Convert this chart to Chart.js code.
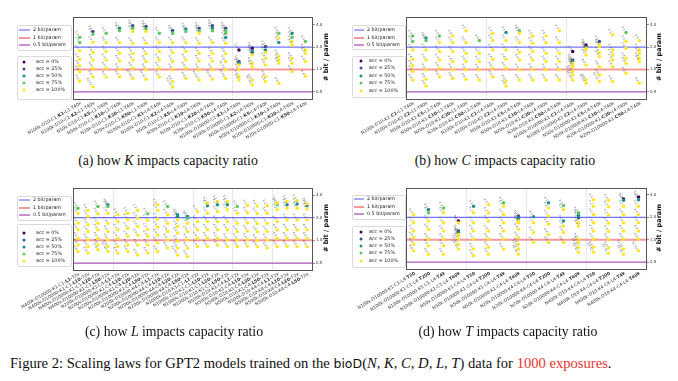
<!DOCTYPE html>
<html>
<head>
<meta charset="utf-8">
<script src="https://cdn.jsdelivr.net/npm/chart.js@4.4.1/dist/chart.umd.min.js"></script>
<style>
    html, body { margin: 0; padding: 0; background: #fff; }
    body { width: 678px; height: 381px; position: relative; overflow: hidden; }
    canvas { position: absolute; }
    .cap {
        position: absolute; transform: translate(-50%, -50%);
        font-family: "Liberation Serif", "DejaVu Serif", serif; font-size: 13.8px;
        color: #111; white-space: nowrap;
    }
    .fig {
        position: absolute; left: 10px; top: 355px;
        font-family: "Liberation Serif", "DejaVu Serif", serif; font-size: 14.6px;
        color: #111; white-space: nowrap;
    }
    .sf { font-family: "DejaVu Sans", sans-serif; font-size: 12.5px; }
    .red { color: #e8332c; }
</style>
</head>
<body>
<canvas id="chartA" width="340" height="150" style="left:0;top:0"></canvas>
<canvas id="chartB" width="338" height="150" style="left:340px;top:0"></canvas>
<canvas id="chartC" width="340" height="150" style="left:0;top:175px"></canvas>
<canvas id="chartD" width="338" height="150" style="left:340px;top:175px"></canvas>

<div class="cap" style="left:168px;top:161px">(a) how <i>K</i> impacts capacity ratio</div>
<div class="cap" style="left:505px;top:161px">(b) how <i>C</i> impacts capacity ratio</div>
<div class="cap" style="left:174px;top:332px">(c) how <i>L</i> impacts capacity ratio</div>
<div class="cap" style="left:508px;top:332px">(d) how <i>T</i> impacts capacity ratio</div>
<div class="fig">Figure 2: Scaling laws for GPT2 models trained on the <span class="sf">bioD</span>(<i>N, K, C, D, L, T</i>) data for <span class="red">1000 exposures</span>.</div>

<script>
// shared legend / styling data
const modelNames = ["1-1", "1-2", "2-2", "2-4", "4-4", "4-8", "8-8", "12-12", "16-16"];
const accLevels = [0, 25, 50, 75, 100];
const accColors = ["#440154", "#3b528b", "#21918c", "#5ec962", "#fde725"];
const refValues = [2, 1, 0.5];
const refNames = ["2 bit/param", "1 bit/param", "0.5 bit/param"];
const refColors = ["rgba(40,40,255,0.65)", "rgba(240,70,70,0.55)", "rgba(140,30,160,0.75)"];
const refWidths = [1.2, 2, 1.3];
const yTicks = [0.5, 1, 2, 4];

// (a) how K impacts capacity ratio
const aLabels = [
    "N100k-D10-C1-K1-L1-T40k", "N100k-D10-C1-K2-L1-T40k", "N50k-D10-C1-K5-L1-T40k",
    "N50k-D10-C1-K10-L1-T40k", "N20k-D10-C1-K20-L1-T40k", "N20k-D10-C1-K50-L1-T40k",
    "N100k-D10-C1-K1-L4-T40k", "N100k-D10-C1-K2-L4-T40k", "N50k-D10-C1-K5-L4-T40k",
    "N50k-D10-C1-K10-L4-T40k", "N20k-D10-C1-K20-L4-T40k", "N20k-D10-C1-K50-L4-T40k",
    "N100k-D10000-C1-K1-L4-T40k", "N100k-D10000-C1-K2-L4-T40k", "N50k-D10000-C1-K5-L4-T40k",
    "N50k-D10000-C1-K10-L4-T40k", "N20k-D10000-C1-K20-L4-T40k", "N20k-D10000-C1-K50-L4-T40k"
];
const aValues = [
    [2.72, 2.30, 1.79, 1.37, 1.12, 0.93, 0.70],
    [3.24, 2.98, 2.33, 1.69, 1.34, 1.04, 0.80, 0.58],
    [3.08, 2.30, 1.74, 1.34, 1.04, 0.79],
    [3.59, 3.33, 2.30, 1.65, 1.30, 1.00, 0.80],
    [3.88, 3.59, 3.24, 2.26, 1.65, 1.34, 1.04, 0.76],
    [3.79, 3.50, 3.24, 2.26, 1.62, 1.28, 0.99, 0.74],
    [3.08, 2.30, 1.74, 1.34, 1.04, 0.79],
    [3.34, 3.08, 2.30, 1.69, 1.28, 0.99, 0.69, 0.58],
    [3.50, 3.24, 2.30, 1.74, 1.34, 1.04, 0.76],
    [3.59, 3.33, 3.08, 2.26, 1.65, 1.30, 0.99, 0.72],
    [3.88, 3.59, 3.33, 2.30, 1.65, 1.30, 0.99, 0.74],
    [3.59, 3.33, 3.08, 2.70, 2.26, 1.62, 1.28, 0.99, 0.76],
    [1.83, 1.28, 1.21, 1.15, 0.99, 0.81, 0.72],
    [1.93, 1.79, 1.69, 1.57, 1.21, 1.09, 0.72, 0.62],
    [2.03, 1.83, 1.69, 1.41, 1.15, 0.80, 0.69],
    [3.08, 2.64, 2.30, 1.52, 1.34, 1.21, 0.65],
    [3.08, 2.72, 2.38, 2.14, 1.41, 1.21, 0.94],
    [2.38, 1.83, 1.65, 1.28, 0.81]
];
const aAcc = [
    [75, 75, 100, 100, 100, 100, 100],
    [25, 75, 100, 100, 100, 100, 100, 100],
    [75, 100, 100, 100, 100, 100],
    [50, 75, 100, 100, 100, 100, 100],
    [25, 75, 100, 100, 100, 100, 100, 100],
    [25, 75, 100, 100, 100, 100, 100, 100],
    [75, 100, 100, 100, 100, 100],
    [25, 75, 100, 100, 100, 100, 100, 100],
    [50, 75, 100, 100, 100, 100, 100],
    [25, 75, 100, 100, 100, 100, 100, 100],
    [25, 50, 75, 100, 100, 100, 100, 100],
    [25, 75, 75, 50, 100, 100, 100, 100, 100],
    [0, 25, 50, 100, 100, 100, 100],
    [0, 50, 25, 100, 100, 100, 100, 100],
    [25, 50, 100, 100, 100, 100, 100],
    [75, 100, 50, 100, 100, 100, 100],
    [50, 75, 100, 100, 100, 100, 100],
    [75, 100, 100, 100, 100]
];

// (b) how C impacts capacity ratio
const bLabels = [
    "N100k-D10-K1-C1-L1-T40k", "N100k-D10-K1-C2-L1-T40k", "N50k-D10-K1-C5-L1-T40k",
    "N50k-D10-K1-C10-L1-T40k", "N20k-D10-K1-C20-L1-T40k", "N20k-D10-K1-C50-L1-T40k",
    "N100k-D10-K1-C1-L4-T40k", "N100k-D10-K1-C2-L4-T40k", "N50k-D10-K1-C5-L4-T40k",
    "N50k-D10-K1-C10-L4-T40k", "N20k-D10-K1-C20-L4-T40k", "N20k-D10-K1-C50-L4-T40k",
    "N100k-D10000-K1-C1-L4-T40k", "N100k-D10000-K1-C2-L4-T40k", "N50k-D10000-K1-C5-L4-T40k",
    "N50k-D10000-K1-C10-L4-T40k", "N20k-D10000-K1-C20-L4-T40k", "N20k-D10000-K1-C50-L4-T40k"
];
const bValues = [
    [2.83, 2.38, 1.83, 1.37, 1.12, 0.94, 0.72],
    [2.64, 2.46, 1.83, 1.34, 0.99, 0.74, 0.60],
    [2.83, 2.30, 1.74, 1.34, 1.04, 0.80],
    [2.83, 2.30, 1.74, 1.28, 0.99, 0.76],
    [3.33, 2.30, 1.65, 1.28, 0.99, 0.74],
    [2.46, 1.65, 1.28, 0.99, 0.72],
    [3.08, 2.46, 1.83, 1.37, 1.04, 0.80],
    [3.14, 2.46, 1.83, 1.37, 1.04, 0.70, 0.60],
    [3.33, 3.08, 2.30, 1.69, 1.34, 0.99, 0.72],
    [2.83, 2.26, 1.74, 1.34, 1.00, 0.72],
    [2.83, 2.30, 1.65, 1.28, 0.99, 0.72],
    [3.33, 2.30, 1.65, 1.28, 0.99, 0.72],
    [1.74, 1.34, 1.28, 1.21, 1.15, 1.09, 0.94, 0.84, 0.72],
    [2.14, 2.03, 1.93, 1.83, 1.57, 1.15, 0.72, 0.65],
    [2.38, 2.14, 2.03, 1.69, 1.49, 1.09, 0.84, 0.69],
    [2.92, 1.83, 1.57, 1.34, 1.09, 0.69],
    [3.14, 2.38, 1.93, 1.41, 1.21, 0.89],
    [2.46, 1.83, 1.65, 1.41, 1.28, 0.65]
];
const bAcc = [
    [75, 75, 100, 100, 100, 100, 100],
    [50, 75, 100, 100, 100, 100, 100],
    [75, 100, 100, 100, 100, 100],
    [100, 100, 100, 100, 100, 100],
    [100, 100, 100, 100, 100, 100],
    [75, 100, 100, 100, 100],
    [100, 100, 100, 100, 100, 100],
    [50, 100, 100, 100, 100, 100, 100],
    [75, 100, 100, 100, 100, 100, 100],
    [100, 100, 100, 100, 100, 100],
    [100, 100, 100, 100, 100, 100],
    [100, 100, 100, 100, 100, 100],
    [0, 25, 50, 100, 100, 100, 100, 100, 100],
    [0, 25, 100, 100, 100, 100, 100, 100],
    [25, 100, 100, 100, 100, 100, 100, 100],
    [100, 100, 100, 100, 100, 100],
    [75, 100, 100, 100, 100, 100],
    [100, 100, 100, 100, 100, 100]
];

// (c) how L impacts capacity ratio
const cLabels = [
    "N400k-D10000-K1-C1-L1-T2k", "N400k-D10000-K1-C1-L10-T2k", "N400k-D10000-K1-C1-L20-T2k", "N400k-D10000-K1-C1-L50-T2k",
    "N200k-D10000-K1-C4-L1-T2k", "N200k-D10000-K1-C4-L10-T2k", "N200k-D10000-K1-C4-L20-T2k", "N200k-D10000-K1-C4-L50-T2k",
    "N200k-D10000-K4-C4-L1-T2k", "N200k-D10000-K4-C4-L10-T2k", "N200k-D10000-K4-C4-L20-T2k", "N200k-D10000-K4-C4-L50-T2k",
    "N1000k-D10-K1-C1-L1-T2k", "N1000k-D10-K1-C1-L10-T2k", "N1000k-D10-K1-C1-L20-T2k", "N1000k-D10-K1-C1-L50-T2k",
    "N500k-D10-K1-C4-L1-T2k", "N500k-D10-K1-C4-L10-T2k", "N500k-D10-K1-C4-L20-T2k", "N500k-D10-K1-C4-L50-T2k",
    "N500k-D10-K4-C4-L1-T2k", "N500k-D10-K4-C4-L10-T2k", "N500k-D10-K4-C4-L20-T2k", "N500k-D10-K4-C4-L50-T2k"
];
const cValues = [
    [2.68, 2.30, 1.69, 1.38, 1.07, 0.87, 0.71],
    [2.52, 2.08, 1.61, 1.31, 1.02, 0.83, 0.68],
    [2.82, 2.25, 1.69, 1.38, 1.07, 0.87, 0.75],
    [2.97, 2.82, 2.30, 1.69, 1.31, 1.02, 0.83, 0.71],
    [2.19, 1.78, 1.38, 1.07, 0.83, 0.68],
    [2.30, 1.88, 1.45, 1.13, 0.87, 0.71],
    [2.52, 1.97, 1.53, 1.18, 0.87, 0.64],
    [2.25, 1.85, 1.41, 1.13, 0.87, 0.68],
    [2.97, 2.52, 1.92, 1.50, 1.18, 0.92, 0.71],
    [2.82, 2.19, 1.69, 1.31, 1.02, 0.79],
    [2.19, 2.08, 1.88, 1.53, 1.25, 0.97, 0.79, 0.64],
    [2.08, 1.97, 1.69, 1.31, 1.02, 0.79, 0.61],
    [2.42, 1.78, 1.38, 1.07, 0.83],
    [3.13, 2.88, 2.30, 1.78, 1.38, 1.07, 0.83],
    [3.29, 2.97, 2.42, 1.78, 1.38, 1.07, 0.87],
    [3.29, 2.97, 2.55, 1.78, 1.38, 1.02, 0.83],
    [2.82, 2.30, 1.69, 1.31, 1.02, 0.83],
    [2.90, 2.32, 1.72, 1.33, 1.03, 0.84],
    [2.86, 2.28, 1.67, 1.30, 1.00, 0.82],
    [2.88, 2.30, 1.69, 1.31, 1.02, 0.79],
    [3.13, 2.97, 2.55, 1.78, 1.38, 1.07, 0.83],
    [3.29, 2.97, 2.68, 1.88, 1.38, 1.07, 0.83],
    [3.39, 3.03, 2.68, 1.88, 1.38, 1.07, 0.83],
    [3.06, 2.88, 2.60, 1.88, 1.38, 1.07, 0.83]
];
const cAcc = [
    [75, 100, 100, 100, 100, 100, 100],
    [100, 100, 100, 100, 100, 100, 100],
    [75, 100, 100, 100, 100, 100, 100],
    [50, 75, 100, 100, 100, 100, 100, 100],
    [100, 100, 100, 100, 100, 100],
    [100, 100, 100, 100, 100, 100],
    [100, 100, 100, 100, 100, 100],
    [75, 100, 100, 100, 100, 100],
    [100, 100, 100, 100, 100, 100, 100],
    [75, 100, 100, 100, 100, 100],
    [50, 50, 100, 100, 100, 100, 100, 100],
    [50, 75, 100, 100, 100, 100, 100],
    [100, 100, 100, 100, 100],
    [100, 50, 100, 100, 100, 100, 100],
    [100, 50, 100, 100, 100, 100, 100],
    [100, 50, 100, 100, 100, 100, 100],
    [75, 100, 100, 100, 100, 100],
    [100, 100, 100, 100, 100, 100],
    [100, 100, 100, 100, 100, 100],
    [100, 100, 100, 100, 100, 100],
    [100, 75, 100, 100, 100, 100, 100],
    [100, 50, 100, 100, 100, 100, 100],
    [100, 50, 100, 100, 100, 100, 100],
    [100, 50, 100, 100, 100, 100, 100]
];

// (d) how T impacts capacity ratio
const dLabels = [
    "N100k-D10000-K1-C1-L4-T20", "N100k-D10000-K1-C1-L4-T200", "N100k-D10000-K1-C1-L4-T4k", "N100k-D10000-K1-C1-L4-T40k",
    "N50k-D10000-K1-C4-L4-T20", "N50k-D10000-K1-C4-L4-T200", "N50k-D10000-K1-C4-L4-T4k", "N50k-D10000-K1-C4-L4-T40k",
    "N20k-D10000-K4-C4-L4-T20", "N20k-D10000-K4-C4-L4-T200", "N20k-D10000-K4-C4-L4-T4k", "N20k-D10000-K4-C4-L4-T40k",
    "N400k-D10-K4-C4-L4-T20", "N400k-D10-K4-C4-L4-T200", "N400k-D10-K4-C4-L4-T4k", "N400k-D10-K4-C4-L4-T40k"
];
const dValues = [
    [2.19, 1.69, 1.31, 1.07, 0.87, 0.71],
    [2.55, 2.30, 1.78, 1.38, 1.02, 0.83, 0.64],
    [2.68, 2.30, 1.69, 1.31, 1.02, 0.83, 0.64],
    [1.78, 1.69, 1.31, 1.25, 1.18, 1.13, 1.02, 0.87, 0.75],
    [2.82, 2.30, 1.69, 1.31, 1.02, 0.75, 0.61],
    [2.97, 2.30, 1.78, 1.31, 1.02, 0.79, 0.64],
    [3.13, 2.82, 2.19, 1.69, 1.31, 1.02, 0.75],
    [2.08, 1.93, 1.78, 1.69, 1.38, 1.07, 0.87, 0.75, 0.64],
    [2.03, 1.69, 1.25, 0.92],
    [3.13, 2.68, 2.08, 1.61, 1.18, 0.92],
    [2.88, 2.52, 1.78, 1.53, 1.25, 0.92],
    [2.30, 2.12, 1.97, 1.69, 1.53, 1.02, 0.92, 0.79, 0.68],
    [3.46, 2.82, 2.19, 1.69, 1.31, 1.02, 0.79, 0.68],
    [3.40, 2.78, 2.15, 1.66, 1.29, 1.00, 0.78, 0.66],
    [3.53, 3.39, 2.82, 2.19, 1.69, 1.31, 1.02, 0.75, 0.64],
    [3.75, 3.46, 2.82, 2.19, 1.69, 1.31, 1.02, 0.71]
];
const dAcc = [
    [100, 100, 100, 100, 100, 100],
    [50, 75, 100, 100, 100, 100, 100],
    [75, 100, 100, 100, 100, 100, 100],
    [0, 100, 25, 50, 100, 100, 100, 100, 100],
    [50, 100, 100, 100, 100, 100, 100],
    [100, 100, 100, 100, 100, 100, 100],
    [75, 100, 100, 100, 100, 100, 100],
    [25, 50, 100, 100, 100, 100, 100, 100, 100],
    [50, 100, 100, 100],
    [50, 100, 100, 100, 100, 100],
    [75, 100, 50, 100, 100, 100],
    [75, 50, 25, 100, 100, 100, 100, 100, 100],
    [100, 100, 100, 100, 100, 100, 100, 100],
    [100, 100, 100, 100, 100, 100, 100, 100],
    [0, 50, 100, 100, 100, 100, 100, 100, 100],
    [0, 50, 100, 100, 100, 100, 100, 100]
];

Chart.defaults.font.family = "DejaVu Sans";
Chart.defaults.animation = false;

function decorPlugin(p) {
    const L = p.canvasLeft, T = p.canvasTop;
    return {
        id: "decor",
        beforeDatasetsDraw(chart) {
            const { ctx, chartArea: ca, scales: { x } } = chart;
            // dotted separators between groups
            ctx.save();
            ctx.strokeStyle = "#d2d2d2";
            ctx.lineWidth = 0.8;
            ctx.setLineDash([1.5, 1]);
            p.seps.forEach(s => {
                const px = Math.round(x.getPixelForValue(s)) + 0.5;
                ctx.beginPath();
                ctx.moveTo(px, ca.top);
                ctx.lineTo(px, ca.bottom);
                ctx.stroke();
            });
            ctx.restore();
        },
        afterDatasetsDraw(chart) {
            const ctx = chart.ctx;
            // tiny model name next to each point
            ctx.save();
            ctx.font = "3px DejaVu Sans";
            ctx.fillStyle = "rgba(50,50,50,0.7)";
            ctx.textAlign = "right";
            ctx.textBaseline = "middle";
            chart.data.datasets.forEach((ds, k) => {
                if (!ds.names) return;
                chart.getDatasetMeta(k).data.forEach((pt, i) => {
                    ctx.save();
                    ctx.translate(pt.x - 1.5, pt.y - 1.8);
                    ctx.rotate(Math.PI / 3);
                    ctx.fillText(ds.names[i], 0, 0);
                    ctx.restore();
                });
            });
            ctx.restore();
        },
        afterDraw(chart) {
            const { ctx, chartArea: ca, scales: { x } } = chart;
            ctx.save();
            // frame
            ctx.strokeStyle = "#555";
            ctx.lineWidth = 1;
            ctx.strokeRect(Math.round(ca.left) + 0.5, Math.round(ca.top) + 0.5,
                Math.round(ca.right - ca.left), Math.round(ca.bottom - ca.top));

            // rotated x labels with the varied part in bold
            const fN = "4.5px DejaVu Sans", fB = "bold 4.5px DejaVu Sans";
            ctx.fillStyle = "#333";
            ctx.textBaseline = "middle";
            ctx.textAlign = "left";
            p.labels.forEach((lab, i) => {
                const segs = lab.split("-").map((s, j, arr) => ({
                    t: s + (j < arr.length - 1 ? "-" : ""),
                    b: s[0] === p.key && /\d/.test(s[1])
                }));
                let total = 0;
                segs.forEach(s => { ctx.font = s.b ? fB : fN; s.w = ctx.measureText(s.t).width; total += s.w; });
                ctx.save();
                ctx.translate(x.getPixelForValue(i) + 1.5, ca.bottom + 4);
                ctx.rotate(-p.angle * Math.PI / 180);
                let cx = -total;
                segs.forEach(s => { ctx.font = s.b ? fB : fN; ctx.fillText(s.t, cx, 0); cx += s.w; });
                ctx.restore();
            });

            // y title
            ctx.save();
            ctx.translate(p.titleX - L, p.titleY - T);
            ctx.rotate(-Math.PI / 2);
            ctx.font = "bold 6.5px DejaVu Sans";
            ctx.fillStyle = "#111";
            ctx.textAlign = "center";
            ctx.fillText("# bit / param", 0, 0);
            ctx.restore();

            // legends
            const lg = p.legend;
            const box = (y0, y1) => {
                ctx.beginPath();
                ctx.roundRect(lg.x0 - L + 0.5, y0 - T + 0.5, lg.x1 - lg.x0, y1 - y0, 1.5);
                ctx.fillStyle = "rgba(255,255,255,0.85)";
                ctx.fill();
                ctx.strokeStyle = "#d0d0d0";
                ctx.lineWidth = 0.8;
                ctx.stroke();
            };
            box(lg.box1[0], lg.box1[1]);
            box(lg.box2[0], lg.box2[1]);
            ctx.font = "4.8px DejaVu Sans";
            ctx.textAlign = "left";
            refNames.forEach((name, i) => {
                const y = lg.lineY[i] - T;
                ctx.strokeStyle = refColors[i];
                ctx.lineWidth = refWidths[i];
                ctx.beginPath();
                ctx.moveTo(lg.lineX[0] - L, y);
                ctx.lineTo(lg.lineX[1] - L, y);
                ctx.stroke();
                ctx.fillStyle = "#222";
                ctx.fillText(name, lg.text1X - L, y);
            });
            accLevels.forEach((a, i) => {
                const y = lg.markY[i] - T;
                ctx.fillStyle = accColors[i];
                ctx.beginPath();
                ctx.arc(lg.markX - L, y, 1.5, 0, Math.PI * 2);
                ctx.fill();
                ctx.fillStyle = "#222";
                ctx.fillText("acc = " + a + "%", lg.text2X - L, y);
            });
            ctx.restore();
        }
    };
}

function makePanel(p) {
    const n = p.labels.length;
    const datasets = [];
    refValues.forEach((v, i) => {
        datasets.push({
            type: "line",
            data: [{ x: -0.5, y: v }, { x: n - 0.5, y: v }],
            borderColor: refColors[i],
            borderWidth: refWidths[i],
            pointRadius: 0,
            fill: false,
            order: 10
        });
    });
    // draw 100% first so the coloured low-accuracy points stay visible
    const pointSets = accLevels.map((a, i) => ({
        type: "scatter",
        data: [],
        names: [],
        backgroundColor: accColors[i],
        borderWidth: 0,
        pointRadius: 1.75,
        order: 5 - i
    }));
    p.values.forEach((col, i) => {
        col.forEach((v, j) => {
            const k = accLevels.indexOf(p.acc[i][j]);
            pointSets[k].data.push({ x: i, y: v });
            pointSets[k].names.push(modelNames[j]);
        });
    });
    datasets.push(...pointSets);

    const cw = p.canvasW, chh = p.canvasH;
    new Chart(document.getElementById(p.id).getContext("2d"), {
        type: "scatter",
        data: { datasets },
        options: {
            responsive: false,
            devicePixelRatio: 1,
            events: [],
            layout: { padding: { left: p.area[0] - p.canvasLeft, top: p.area[1] - p.canvasTop, right: 0, bottom: 0 } },
            plugins: { legend: { display: false }, tooltip: { enabled: false } },
            scales: {
                x: {
                    type: "linear",
                    min: -0.5,
                    max: n - 0.5,
                    ticks: { display: false },
                    grid: { display: false },
                    border: { display: false },
                    afterFit(s) { s.height = chh - (p.area[3] - p.canvasTop); }
                },
                y: {
                    type: "logarithmic",
                    position: "right",
                    min: p.yMin,
                    max: p.yMax,
                    afterBuildTicks(s) { s.ticks = yTicks.map(v => ({ value: v })); },
                    ticks: {
                        callback: v => Number(v).toFixed(1),
                        font: { size: 4 },
                        color: "#333",
                        padding: 1
                    },
                    grid: { drawOnChartArea: false, tickLength: 3, color: "#444", lineWidth: 0.6 },
                    border: { display: false },
                    afterFit(s) { s.width = cw - (p.area[2] - p.canvasLeft); }
                }
            }
        },
        plugins: [decorPlugin(p)]
    });
}

makePanel({
    id: "chartA", canvasLeft: 0, canvasTop: 0, canvasW: 340, canvasH: 150,
    area: [73, 17, 312, 99], yMin: 0.40, yMax: 5.08, seps: [5.5, 11.5], angle: 30, key: "K",
    labels: aLabels, values: aValues, acc: aAcc, titleX: 326, titleY: 57,
    legend: { x0: 17, x1: 71, box1: [25, 50], lineY: [30, 38, 45], lineX: [19, 30], text1X: 33,
              box2: [56, 99], markY: [62, 69, 76, 83, 90], markX: 24, text2X: 36 }
});
makePanel({
    id: "chartB", canvasLeft: 340, canvasTop: 0, canvasW: 338, canvasH: 150,
    area: [406, 17, 646, 99], yMin: 0.40, yMax: 5.08, seps: [5.5, 11.5], angle: 30, key: "C",
    labels: bLabels, values: bValues, acc: bAcc, titleX: 659, titleY: 57,
    legend: { x0: 352, x1: 405, box1: [25, 49], lineY: [30, 38, 45], lineX: [354, 364], text1X: 367,
              box2: [56, 97], markY: [61, 68, 76, 83, 91], markX: 361, text2X: 369 }
});
makePanel({
    id: "chartC", canvasLeft: 0, canvasTop: 175, canvasW: 340, canvasH: 150,
    area: [73, 188, 312, 270], yMin: 0.404, yMax: 4.96, seps: [3.5, 7.5, 11.5, 15.5, 19.5], angle: 30, key: "L",
    labels: cLabels, values: cValues, acc: cAcc, titleX: 326, titleY: 228,
    legend: { x0: 17, x1: 71, box1: [196, 220], lineY: [200, 208, 215], lineX: [19, 30], text1X: 33,
              box2: [224, 266], markY: [233, 240, 247, 254, 261], markX: 24, text2X: 36 }
});
makePanel({
    id: "chartD", canvasLeft: 340, canvasTop: 175, canvasW: 338, canvasH: 150,
    area: [406, 188, 646, 269], yMin: 0.404, yMax: 4.96, seps: [3.5, 7.5, 11.5], angle: 32, key: "T",
    labels: dLabels, values: dValues, acc: dAcc, titleX: 659, titleY: 228,
    legend: { x0: 352, x1: 405, box1: [195, 219], lineY: [199, 207, 214], lineX: [354, 364], text1X: 367,
              box2: [226, 267], markY: [232, 239, 246, 253, 261], markX: 361, text2X: 369 }
});
</script>
</body>
</html>
